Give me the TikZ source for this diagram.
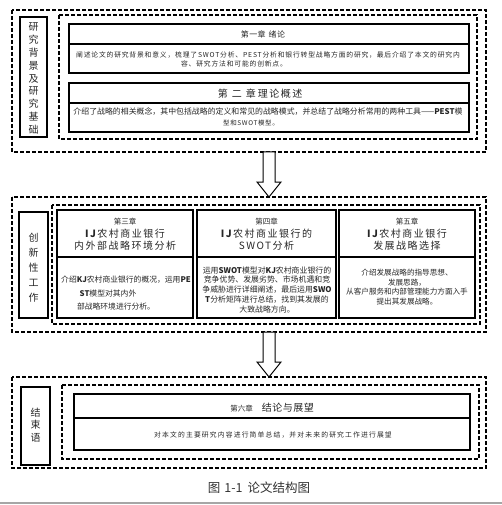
\documentclass[tikz,border=0pt]{standalone}
\usepackage{fontspec}
\setmainfont{Noto Sans CJK SC}
\usetikzlibrary{calc}
\begin{document}
\begin{tikzpicture}[x=1pt,y=-1pt,
  outerbox/.style={draw, line width=1.2pt, dash pattern=on 4pt off 2pt},
  chbox/.style={draw, line width=1.9pt},
  labelbox/.style={draw, line width=1.6pt},
  hollow/.style={draw, line width=1pt, fill=white, line join=miter},
  txt/.style={inner sep=0pt, align=center, text=black!85},
  vlabel/.style={txt, font=\fontsize{10}{12.9}\selectfont},
  chnum/.style={txt, font=\fontsize{7.5}{9}\selectfont},
  ttl/.style={txt, font=\fontsize{10}{12}\selectfont\addfontfeature{LetterSpace=15}},
  bodysmall/.style={txt, font=\fontsize{6.8}{8.2}\selectfont\addfontfeature{LetterSpace=12}},
  body/.style={txt, font=\fontsize{7.8}{11}\selectfont}
]
\useasboundingbox (0,0) rectangle (502,505);

% ---------- Section 1 ----------
\draw[outerbox] (12,10) rectangle (486,152);
\draw[outerbox] (59,15) rectangle (477,139);
\draw[labelbox] (20,17) rectangle (47,137);
\node[vlabel] (l1) at (33.5,78.5) {研\\究\\背\\景\\及\\研\\究\\基\\础};

\draw[chbox] (69,24) rectangle (469,73);
\draw[chbox] (69,44) -- (469,44);
\node[txt, font=\fontsize{8}{9.6}\selectfont\addfontfeature{LetterSpace=6}] (c1t) at (263,34) {第一章\hspace{3pt}绪论};
\node[bodysmall] (c1b1) at (268,55) {阐述论文的研究背景和意义，梳理了SWOT分析、PEST分析和银行转型战略方面的研究，最后介绍了本文的研究内};
\node[bodysmall] (c1b2) at (234,63.5) {容、研究方法和可能的创新点。};

\draw[chbox] (69,83) rectangle (469,132);
\draw[chbox] (69,103) -- (469,103);
\node[txt, font=\fontsize{10}{12}\selectfont] (c2t) at (260,94) {{\addfontfeature{LetterSpace=40}第二章}\hspace{2pt}{\addfontfeature{LetterSpace=15}理论概述}};
\node[txt, font=\fontsize{7.9}{11}\selectfont] (c2b1) at (268,112) {介绍了战略的相关概念，其中包括战略的定义和常见的战略模式，并总结了战略分析常用的两种工具——\textbf{PEST}模};
\node[txt, font=\fontsize{6.5}{8}\selectfont\addfontfeature{LetterSpace=10}] (c2b2) at (251,123) {型和SWOT模型。};

% arrow 1
\coordinate (t1) at (269,152);
\draw[hollow] ($(t1)+(-6,0)$) -- ($(t1)+(-6,30)$) -- ($(t1)+(-12,30)$) -- ($(t1)+(0,45)$) -- ($(t1)+(12,30)$) -- ($(t1)+(6,30)$) -- ($(t1)+(6,0)$) -- cycle;

% ---------- Section 2 ----------
\draw[outerbox] (12,197) rectangle (486,332);
\draw[outerbox] (52,205) rectangle (480,324);
\draw[labelbox] (19,212) rectangle (48,318);
\node[vlabel, font=\fontsize{10}{15}\selectfont] (l2) at (33.5,268) {创\\新\\性\\工\\作};

\draw[chbox] (57,210) rectangle (193,318);
\draw[chbox] (57,257) -- (193,257);
\node[chnum] (c3n) at (125,222) {第三章};
\node[ttl] (c3t) at (125,240) {\textbf{IJ}农村商业银行\\内外部战略环境分析};
\node[body] (c3b1) at (126,280) {介绍\textbf{KJ}农村商业银行的概况，运用\textbf{PE}};
\node[body] (c3b2) at (108,293.5) {\textbf{ST}模型对其内外};
\node[body] (c3b3) at (116,307) {部战略环境进行分析。};

\draw[chbox] (197,210) rectangle (336,318);
\draw[chbox] (197,257) -- (336,257);
\node[chnum] (c4n) at (266.5,222) {第四章};
\node[ttl] (c4t) at (266.5,240) {\textbf{IJ}农村商业银行的\\SWOT分析};
\node[body, font=\fontsize{7.9}{9.75}\selectfont] (c4b) at (267,289.5) {运用\textbf{SWOT}模型对\textbf{KJ}农村商业银行的\\竞争优势、发展劣势、市场机遇和竞\\争威胁进行详细阐述，最后运用\textbf{SWO}\\\textbf{T}分析矩阵进行总结，找到其发展的\\大致战略方向。};

\draw[chbox] (339,210) rectangle (475,318);
\draw[chbox] (339,257) -- (475,257);
\node[chnum] (c5n) at (407,222) {第五章};
\node[ttl] (c5t) at (407,240) {\textbf{IJ}农村商业银行\\发展战略选择};
\node[body, font=\fontsize{7.6}{9.5}\selectfont] (c5b) at (407,287) {介绍发展战略的指导思想、\\发展思路，\\从客户服务和内部管理能力方面入手\\提出其发展战略。};

% arrow 2
\coordinate (t2) at (269,332);
\draw[hollow] ($(t2)+(-6,0)$) -- ($(t2)+(-6,30)$) -- ($(t2)+(-12,30)$) -- ($(t2)+(0,45)$) -- ($(t2)+(12,30)$) -- ($(t2)+(6,30)$) -- ($(t2)+(6,0)$) -- cycle;

% ---------- Section 3 ----------
\draw[outerbox] (12,377) rectangle (486,468);
\draw[outerbox] (62,385) rectangle (479,459);
\draw[labelbox] (21,387) rectangle (50,465);
\node[vlabel, font=\fontsize{10}{12.5}\selectfont] (l3) at (35.5,425) {结\\束\\语};

\draw[chbox] (74,394) rectangle (470,450);
\draw[chbox] (74,418) -- (470,418);
\node[txt] (c6t) at (272,408) {{\fontsize{7.5}{9}\selectfont 第六章}\hspace{9pt}{\fontsize{10}{12}\selectfont\addfontfeature{LetterSpace=5}结论与展望}};
\node[bodysmall, font=\fontsize{6.8}{8.2}\selectfont\addfontfeature{LetterSpace=17}] (c6b) at (273,435) {对本文的主要研究内容进行简单总结，并对未来的研究工作进行展望};

% ---------- Caption ----------
\node[txt, text=black!80, font=\fontsize{12.5}{14}\selectfont] (cap) at (259,488) {图\hspace{4pt}1-1\hspace{5pt}论文结构图};
\coordinate (gl) at (0,503);
\coordinate (gr) at (502,503);
\draw[line width=1.5pt, gray!70] (gl) -- (gr);
\end{tikzpicture}
\end{document}
